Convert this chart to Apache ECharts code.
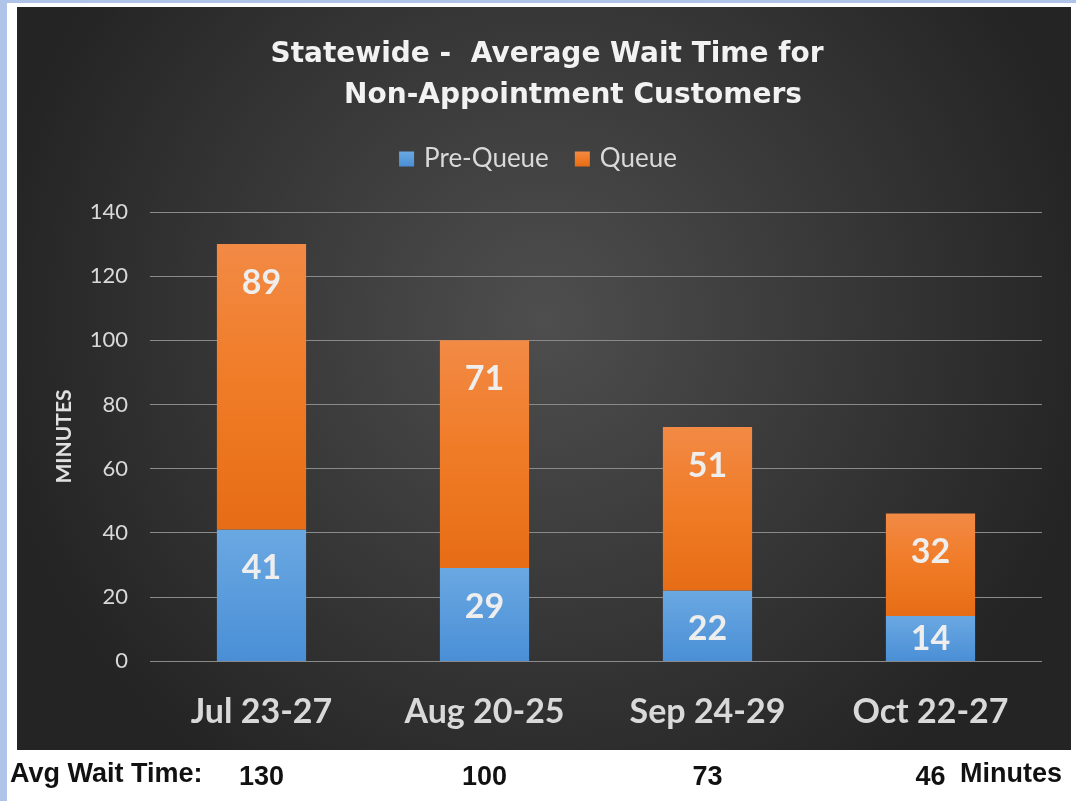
<!DOCTYPE html>
<html><head><meta charset="utf-8">
<script src="https://cdn.jsdelivr.net/npm/echarts@6/dist/echarts.min.js"></script>
<style>html,body{margin:0;padding:0;background:#fff}#c{width:1076px;height:801px}</style>
</head><body><div id="c"></div>
<script>
const categories = ['Jul 23-27', 'Aug 20-25', 'Sep 24-29', 'Oct 22-27'];
const preQueue = [41, 29, 22, 14];
const queue = [89, 71, 51, 32];
const yTicks = [0, 20, 40, 60, 80, 100, 120, 140];
const titleLines = ['Statewide -  Average Wait Time for', 'Non-Appointment Customers'];
const totals = categories.map((c, i) => preQueue[i] + queue[i]);

const chart = echarts.init(document.getElementById('c'), null, {renderer: 'canvas'});
const F = 'Lato, "Open Sans", sans-serif';
const TF = 'bold 28px "DejaVu Sans", sans-serif';
const BF = 'bold 27px "Liberation Sans", Arial, sans-serif';
function lbl(vals) {
  return vals.map(v => ({value: v, label: v < 20 ? {position: 'inside'} : {}}));
}
const labelStyle = {show: true, position: 'insideTop', distance: 22, color: '#eeeeee',
  fontFamily: F, fontWeight: 'bold', fontSize: 34};
chart.setOption({
  backgroundColor: '#afc4e8',
  animation: false,
  graphic: [
    {type: 'rect', z: -10, shape: {x: 7, y: 3, width: 1069, height: 798}, style: {fill: '#ffffff'}},
    {type: 'rect', z: -9, shape: {x: 17, y: 7, width: 1054, height: 743},
      style: {fill: new echarts.graphic.RadialGradient(0.5, 0.42, 0.75, [
        {offset: 0, color: '#4e4e4e'}, {offset: 1, color: '#242424'}])}},
    {type: 'text', x: 547, y: 55, style: {text: titleLines[0], fill: '#f2f2f2', font: TF,
      textAlign: 'center', textVerticalAlign: 'middle'}},
    {type: 'text', x: 573, y: 96, style: {text: titleLines[1], fill: '#f2f2f2', font: TF,
      textAlign: 'center', textVerticalAlign: 'middle'}},
    {type: 'text', left: 10, top: 761, style: {text: 'Avg Wait Time:', fill: '#111', font: BF}},
    {type: 'text', left: 960, top: 761, style: {text: 'Minutes', fill: '#111', font: BF}}
  ],
  legend: {
    top: 141, left: 'center', itemWidth: 15, itemHeight: 15, itemGap: 26,
    icon: 'rect',
    textStyle: {color: '#d9d9d9', fontFamily: F, fontSize: 26, padding: [0, 0, 0, 5]},
    data: ['Pre-Queue', 'Queue']
  },
  grid: {left: 150, right: 34, top: 212, bottom: 140},
  xAxis: [{
    type: 'category', data: categories,
    axisLine: {show: false}, axisTick: {show: false},
    axisLabel: {color: '#d9d9d9', fontFamily: F, fontWeight: 'bold', fontSize: 34, margin: 34}
  }, {
    type: 'category', data: totals, position: 'bottom', offset: 103,
    axisLine: {show: false}, axisTick: {show: false},
    axisLabel: {color: '#111', fontFamily: '"Liberation Sans", Arial, sans-serif', fontWeight: 'bold', fontSize: 27, margin: 0}
  }],
  yAxis: {
    type: 'value', min: 0, max: 140, interval: 20,
    name: 'MINUTES', nameLocation: 'middle', nameRotate: 90, nameGap: 75,
    nameTextStyle: {color: '#e0e0e0', fontFamily: F, fontWeight: 'bold', fontSize: 21},
    axisLine: {show: false}, axisTick: {show: false},
    axisLabel: {color: '#d9d9d9', fontFamily: F, fontSize: 22, margin: 22,
      formatter: v => yTicks.includes(v) ? String(v) : ''},
    splitLine: {lineStyle: {color: '#8a8a8a', width: 1}}
  },
  series: [{
    name: 'Pre-Queue', type: 'bar', stack: 't', barWidth: '40%',
    data: lbl(preQueue),
    itemStyle: {color: new echarts.graphic.LinearGradient(0, 0, 0, 1, [
      {offset: 0, color: '#6aa8e2'}, {offset: 1, color: '#4a8fd6'}])},
    label: labelStyle
  }, {
    name: 'Queue', type: 'bar', stack: 't', barWidth: '40%',
    data: lbl(queue),
    itemStyle: {color: new echarts.graphic.LinearGradient(0, 0, 0, 1, [
      {offset: 0, color: '#f28a45'}, {offset: 0.5, color: '#f07b26'}, {offset: 1, color: '#e66d15'}])},
    label: labelStyle
  }]
});
</script></body></html>
